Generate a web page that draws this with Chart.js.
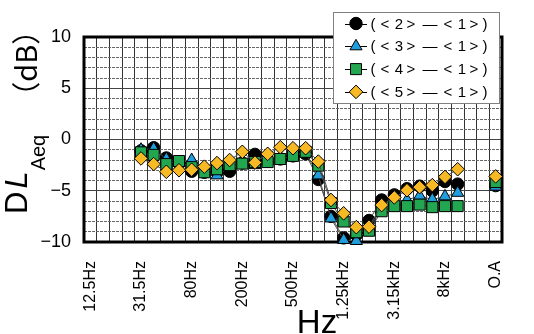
<!DOCTYPE html>
<html>
<head>
<meta charset="utf-8">
<script src="https://cdn.jsdelivr.net/npm/chart.js@4.4.1/dist/chart.umd.min.js"></script>
<style>
  html, body { margin: 0; padding: 0; background: #fff; }
  #wrap { width: 534px; height: 334px; }
</style>
</head>
<body>
<div id="wrap"><canvas id="chart" width="534" height="334"></canvas></div>
<script>
// 1/3 octave bands, two empty slots, then overall
const bands = ['12.5Hz', '16Hz', '20Hz', '25Hz', '31.5Hz', '40Hz', '50Hz', '63Hz', '80Hz', '100Hz',
  '125Hz', '160Hz', '200Hz', '250Hz', '315Hz', '400Hz', '500Hz', '630Hz', '800Hz', '1kHz',
  '1.25kHz', '1.6kHz', '2kHz', '2.5kHz', '3.15kHz', '4kHz', '5kHz', '6.3kHz', '8kHz', '10kHz',
  '', '', 'O.A'];

const seriesNames = ['(<2>—<1>)', '(<3>—<1>)', '(<4>—<1>)', '(<5>—<1>)'];

const diff21 = [null, null, null, null, -1.1, -0.8, -1.8, -2.3, -3.1, -3.2,
  -3.2, -3.1, -2.3, -1.45, -2.1, -1.9, -1.6, -1.4, -3.9, -7.5,
  -9.6, -9.3, -7.9, -5.9, -5.4, -4.8, -4.55, -5.0, -4.1, -4.35,
  null, null, -4.5];
const diff31 = [null, null, null, null, -1.0, -0.9, -1.9, -2.3, -2.0, -3.2,
  -3.5, -2.7, -2.3, -2.5, -2.1, -1.9, -1.6, -1.3, -3.5, -7.7,
  -9.8, -9.9, -8.6, -6.8, -6.1, -5.9, -5.5, -5.85, -5.55, -5.2,
  null, null, -4.6];
const diff41 = [null, null, null, null, -1.25, -1.5, -2.4, -2.1, -2.7, -3.2,
  -2.9, -2.5, -2.35, -2.2, -2.2, -1.9, -1.6, -1.2, -2.55, -6.2,
  -8.0, -9.05, -8.9, -7.0, -6.5, -6.5, -6.35, -6.6, -6.5, -6.5,
  null, null, -4.15];
const diff51 = [null, null, null, null, -1.85, -2.4, -3.15, -3.0, -2.95, -2.65,
  -2.3, -2.0, -1.2, -2.25, -1.4, -0.75, -0.85, -0.85, -2.15, -5.9,
  -7.2, -8.55, -8.5, -6.4, -5.65, -4.95, -4.65, -4.45, -3.65, -2.9,
  null, null, -3.6];

const yMin = -10, yMax = 10;

const styles = [
  { pointStyle: 'circle',   radius: 6.2, fill: '#000000' },
  { pointStyle: 'triangle', radius: 7,   fill: '#1f9ddc' },
  { pointStyle: 'rect',     radius: 7.8, fill: '#22a64f' },
  { pointStyle: 'rectRot',  radius: 6.8, fill: '#f7b924' }
];

function makeDataset(i, values) {
  const s = styles[i];
  return {
    label: seriesNames[i],
    data: values,
    borderColor: '#505050',
    borderWidth: 1,
    pointStyle: s.pointStyle,
    pointRadius: s.radius,
    pointHoverRadius: s.radius,
    pointBackgroundColor: s.fill,
    pointBorderColor: '#000',
    pointBorderWidth: 1,
    spanGaps: false,
    tension: 0,
    clip: false,
    order: 4 - i   // later series drawn on top
  };
}

// thick frame round the plot
const plotFrame = {
  id: 'plotFrame',
  beforeDatasetsDraw(chart) {
    const { ctx, chartArea: a } = chart;
    ctx.save();
    ctx.strokeStyle = '#000';
    ctx.lineWidth = 3;
    ctx.strokeRect(a.left, a.top, a.right - a.left, a.bottom - a.top);
    ctx.restore();
  }
};

// axis titles
const axisTitles = {
  id: 'axisTitles',
  afterDraw(chart) {
    const ctx = chart.ctx;
    ctx.save();
    ctx.fillStyle = '#000';
    ctx.textBaseline = 'alphabetic';
    // x title
    ctx.font = '33px "Liberation Sans", Arial, sans-serif';
    ctx.textAlign = 'center';
    ctx.fillText('Hz', 317, 333);
    // y title, rotated
    ctx.translate(27, 214);
    ctx.rotate(-Math.PI / 2);
    ctx.textAlign = 'left';
    let x = 0;
    ctx.font = '31px "Liberation Sans", Arial, sans-serif';
    ctx.fillText('D', x, 0);
    x += ctx.measureText('D').width + 3;
    ctx.font = 'italic 31px "Liberation Sans", Arial, sans-serif';
    ctx.fillText('L', x, 0);
    x += ctx.measureText('L').width + 1;
    ctx.font = '20px "Liberation Sans", Arial, sans-serif';
    ctx.fillText('Aeq', x, 18);
    x += ctx.measureText('Aeq').width + 24;
    ctx.font = '29px "Noto Sans CJK JP", sans-serif';
    ctx.fillText('（dB）', x, 10);
    ctx.restore();
  }
};

// boxed legend with a line through each marker
const charOffsets = [0, 12, 26, 38, 57, 75, 89, 101, 112];
const boxedLegend = {
  id: 'boxedLegend',
  afterDraw(chart) {
    const ctx = chart.ctx;
    ctx.save();
    ctx.fillStyle = '#fff';
    ctx.fillRect(333, 12, 166, 91);
    ctx.strokeStyle = '#808080';
    ctx.lineWidth = 1;
    ctx.strokeRect(333.5, 12.5, 166, 91);
    chart.data.datasets.forEach((ds, i) => {
      const y = 23.5 + i * 22.8;
      ctx.strokeStyle = '#000';
      ctx.lineWidth = 1;
      ctx.beginPath();
      ctx.moveTo(345, Math.round(y) + 0.5);
      ctx.lineTo(367, Math.round(y) + 0.5);
      ctx.stroke();
      ctx.fillStyle = ds.pointBackgroundColor;
      ctx.strokeStyle = '#000';
      Chart.helpers.drawPoint(ctx, {
        pointStyle: ds.pointStyle, radius: ds.pointRadius, borderWidth: 1, rotation: 0
      }, 356, y);
      ctx.fillStyle = '#000';
      ctx.textAlign = 'center';
      ctx.textBaseline = 'middle';
      ctx.font = '15px "Liberation Sans", Arial, sans-serif';
      Array.from(ds.label).forEach((ch, k) => {
        ctx.fillText(ch, 373 + charOffsets[k], y + 1);
      });
    });
    ctx.restore();
  }
};

new Chart(document.getElementById('chart'), {
  type: 'line',
  data: {
    labels: bands,
    datasets: [diff21, diff31, diff41, diff51].map((v, i) => makeDataset(i, v))
  },
  options: {
    responsive: false,
    animation: false,
    devicePixelRatio: 1,
    layout: { padding: { top: 37, right: 6, left: 0, bottom: 0 } },
    plugins: {
      legend: { display: false },
      tooltip: { enabled: false }
    },
    scales: {
      x: {
        offset: true,
        grid: { offset: true, color: '#333', lineWidth: 1, drawTicks: false },
        border: { display: false },
        ticks: {
          autoSkip: false,
          minRotation: 90,
          maxRotation: 90,
          padding: 19,
          color: '#000',
          font: { family: '"Liberation Sans", Arial, sans-serif', size: 16 },
          callback: function(value, index) {
            return index % 4 === 0 ? bands[index] : '';
          }
        },
        afterFit(scale) { scale.height = 92; }
      },
      y: {
        min: yMin,
        max: yMax,
        grid: {
          drawTicks: false,
          lineWidth: 1,
          color: ctx => (ctx.tick && ctx.tick.value % 5 === 0) ? '#444' : '#666'
        },
        border: {
          display: false,
          dash: ctx => (ctx.tick && ctx.tick.value % 5 !== 0) ? [3, 1] : []
        },
        ticks: {
          stepSize: 1,
          autoSkip: false,
          padding: 13,
          color: '#000',
          font: { family: '"Liberation Sans", Arial, sans-serif', size: 18 },
          callback: v => v % 5 === 0 ? (v < 0 ? '\u2212' + Math.abs(v) : String(v)) : ''
        },
        afterFit(scale) { scale.width = 84; }
      }
    }
  },
  plugins: [plotFrame, axisTitles, boxedLegend]
});
</script>
</body>
</html>
